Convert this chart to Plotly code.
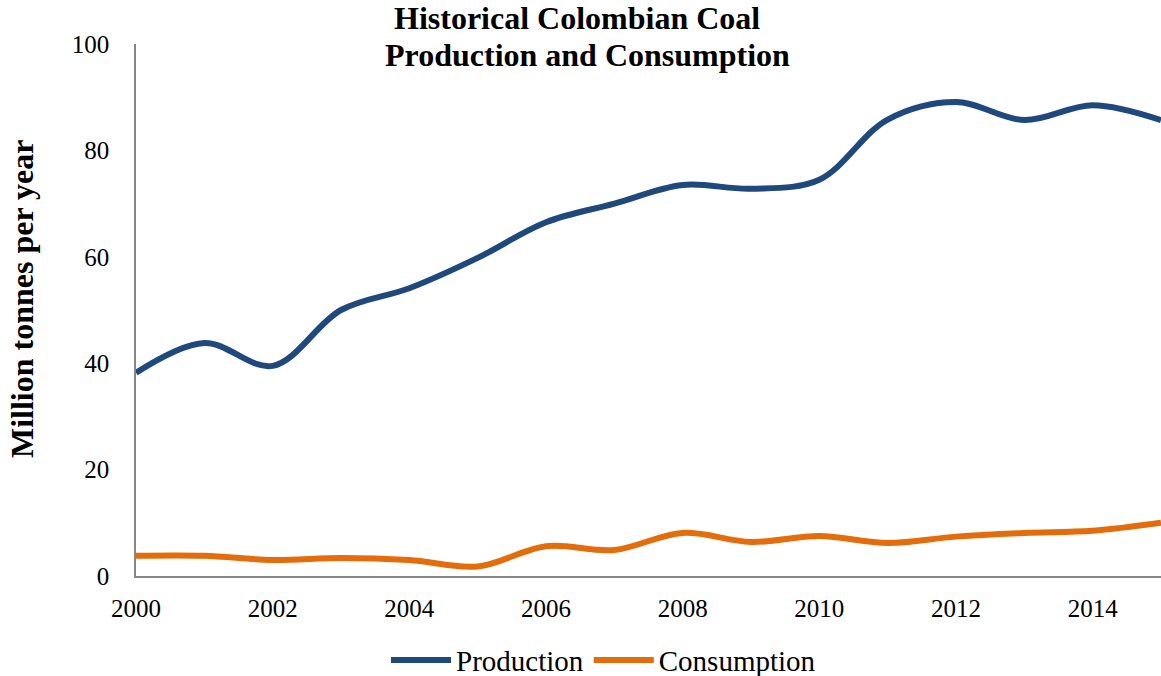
import plotly.graph_objects as go

years = list(range(2000, 2016))
production = [38.2, 43.8, 39.5, 50.0, 54.1, 59.8, 66.5, 70.0, 73.5, 72.8, 74.5, 85.8, 89.1, 85.7, 88.5, 85.7]
consumption = [3.8, 3.8, 3.0, 3.4, 3.0, 1.8, 5.6, 4.9, 8.1, 6.4, 7.5, 6.2, 7.4, 8.1, 8.5, 10.0]

x_ticks = [2000, 2002, 2004, 2006, 2008, 2010, 2012, 2014]
y_ticks = [0, 20, 40, 60, 80, 100]

title_lines = ["Historical Colombian Coal", "Production and Consumption"]
y_title = "Million tonnes per year"

FONT = "Liberation Serif"

fig = go.Figure()
fig.add_trace(go.Scatter(
    x=years, y=production, name="Production", mode="lines",
    line=dict(color="#1F497D", width=6, shape="spline", smoothing=1.0),
))
fig.add_trace(go.Scatter(
    x=years, y=consumption, name="Consumption", mode="lines",
    line=dict(color="#E46C0A", width=6, shape="spline", smoothing=1.0),
))

fig.update_layout(
    width=1161, height=676,
    paper_bgcolor="white", plot_bgcolor="white",
    margin=dict(l=136, r=0, t=44, b=100, autoexpand=False),
    font=dict(family=FONT, color="black", size=25),
    showlegend=True,
    legend=dict(
        orientation="h", x=0.2439, xref="paper", xanchor="left",
        y=-0.158, yref="paper", yanchor="middle",
        font=dict(family=FONT, size=29, color="black"),
        itemwidth=60,
        bgcolor="rgba(0,0,0,0)",
    ),
    xaxis=dict(
        range=[2000, 2015], tickmode="array", tickvals=x_ticks,
        ticktext=[str(v) for v in x_ticks],
        showgrid=False, zeroline=False,
        showline=True, linecolor="#868686", linewidth=1.5,
        ticks="", ticklabelstandoff=9,
        tickfont=dict(family=FONT, size=25, color="black"),
    ),
    yaxis=dict(
        range=[0, 100], tickmode="array", tickvals=y_ticks,
        ticktext=[str(v) for v in y_ticks],
        showgrid=False, zeroline=False,
        showline=True, linecolor="#868686", linewidth=1.5,
        ticks="", ticklabelstandoff=20,
        tickfont=dict(family=FONT, size=25, color="black"),
    ),
    annotations=[
        dict(text="<b>%s</b>" % title_lines[0], x=0.43, y=1.0493, xref="paper", yref="paper",
             xanchor="center", yanchor="middle", showarrow=False,
             font=dict(family=FONT, size=32, color="black")),
        dict(text="<b>%s</b>" % title_lines[1], x=0.44, y=0.9797, xref="paper", yref="paper",
             xanchor="center", yanchor="middle", showarrow=False,
             font=dict(family=FONT, size=32, color="black")),
        dict(text="<b>%s</b>" % y_title, x=-0.1112, y=0.5207, xref="paper", yref="paper",
             xanchor="center", yanchor="middle", showarrow=False, textangle=-90,
             font=dict(family=FONT, size=32, color="black")),
    ],
)

fig.write_html("out.html", config={"displayModeBar": False},
               post_script="document.body.style.margin='0px';")
